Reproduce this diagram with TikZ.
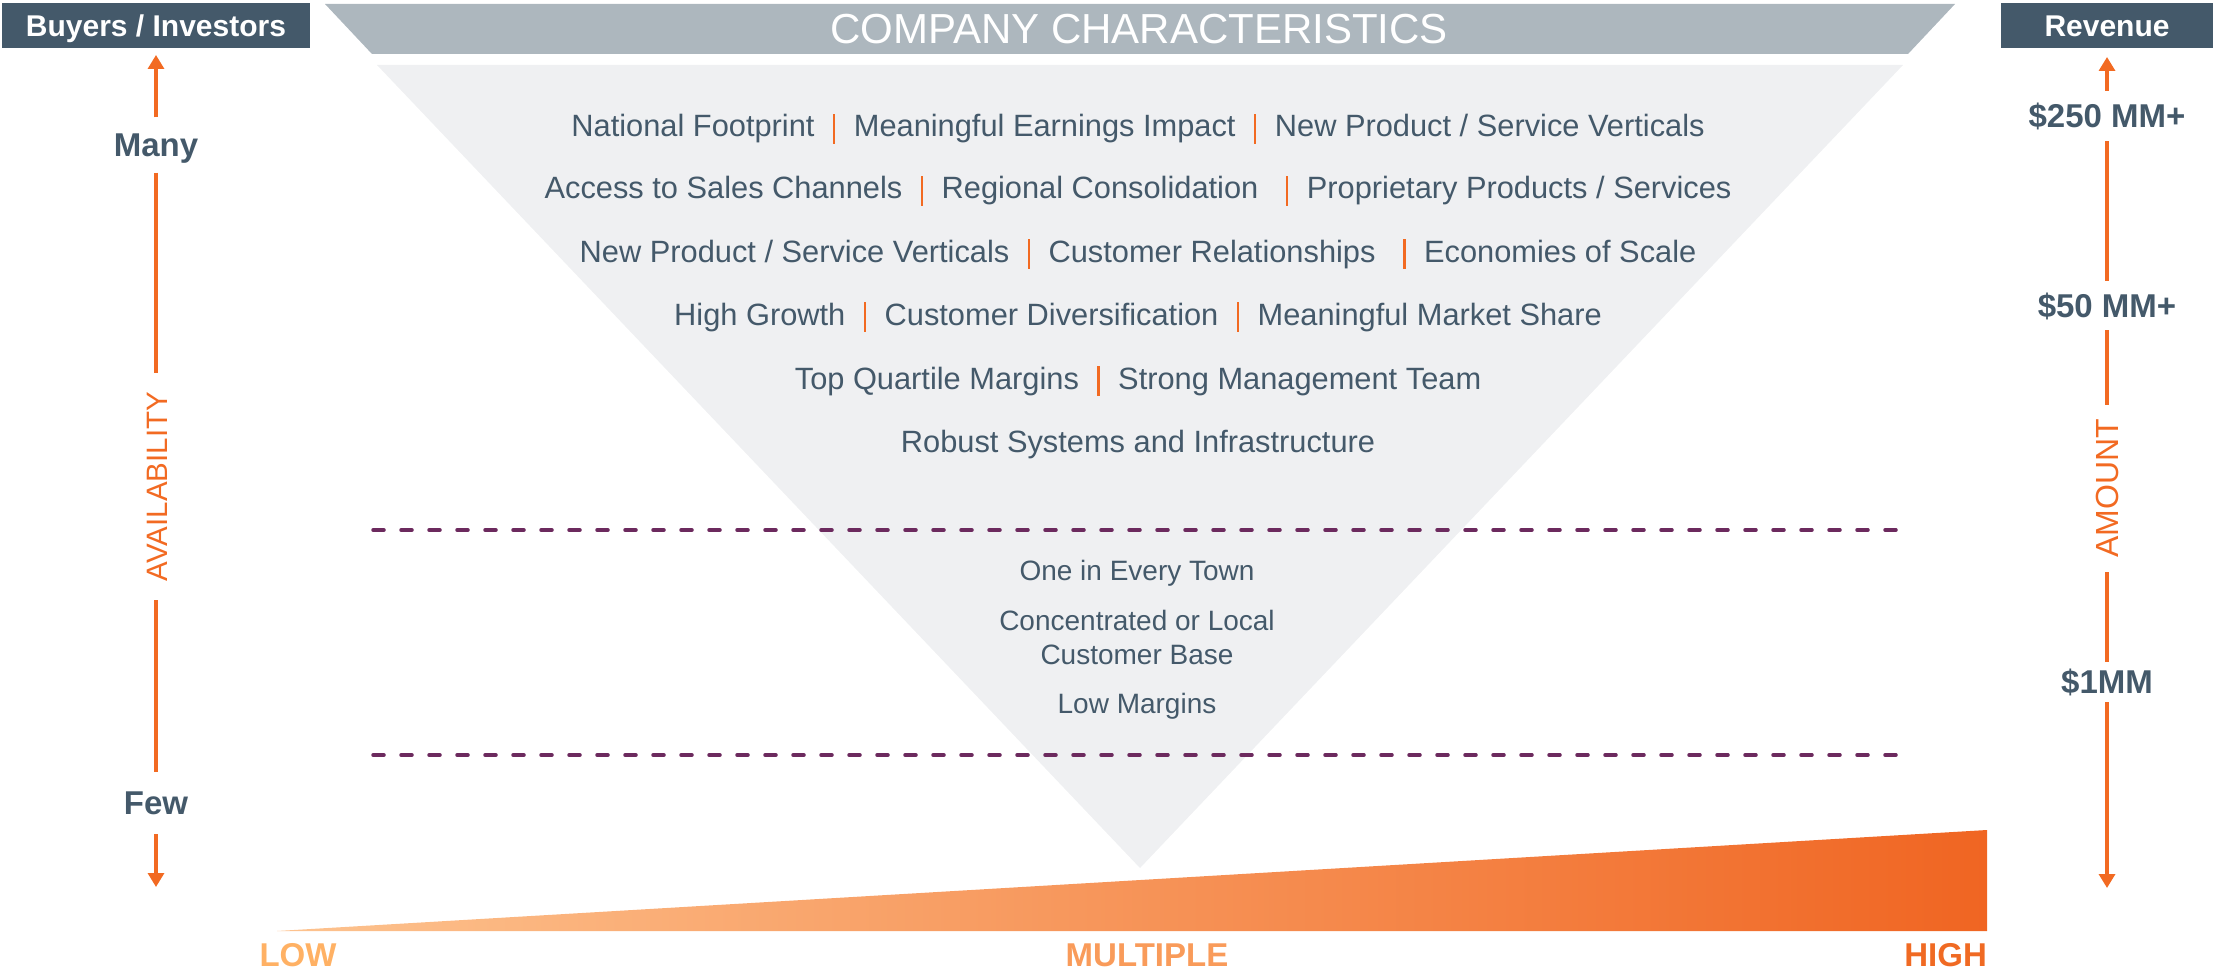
\documentclass[tikz,border=0pt]{standalone}
\usepackage{fontspec}
\setmainfont{Liberation Sans}
\usetikzlibrary{arrows.meta}

\definecolor{slate}{HTML}{44596A}
\definecolor{accent}{HTML}{F26A22}
\definecolor{bandgray}{HTML}{ADB7BE}
\definecolor{funnelgray}{HTML}{EFF0F2}
\definecolor{dashpurple}{HTML}{6C2A5E}
\definecolor{lowtone}{HTML}{FFB164}
\definecolor{midtone}{HTML}{F99B5A}
\definecolor{hightone}{HTML}{F06A23}
\definecolor{wedgeleft}{HTML}{FDC38F}
\definecolor{wedgeright}{HTML}{F06522}

% orange bar between items of a row
\newcommand{\rowbar}{\hspace{0.6em}{\color{accent}\rule[-0.22em]{2.3pt}{0.98em}}\hspace{0.6em}}

\tikzset{
  hdrbox/.style={fill=slate, text=white, inner sep=0pt, minimum height=45pt,
    font=\fontsize{30}{34}\selectfont\bfseries, text height=21.5pt, text depth=0pt},
  rowtext/.style={text=slate, inner sep=0pt, font=\fontsize{30.8}{36}\selectfont,
    text height=22pt, text depth=0pt},
  lowtext/.style={text=slate, inner sep=0pt, font=\fontsize{28}{34}\selectfont,
    text height=20pt, text depth=0pt},
  axislabel/.style={text=slate, inner sep=0pt, font=\fontsize{33}{38}\selectfont\bfseries,
    text height=23.6pt, text depth=0pt},
  axisname/.style={text=accent, inner sep=0pt, rotate=90,
    text height=22pt, text depth=0pt},
  axisline/.style={draw=accent, line width=3.3pt},
  axisarrow/.style={axisline, -{Triangle[width=16pt,length=14pt]}},
  scaletext/.style={inner sep=0pt, font=\fontsize{33}{38}\selectfont\bfseries,
    text height=23.6pt, text depth=0pt},
  divider/.style={draw=dashpurple, line width=3.5pt, line cap=round,
    dash pattern=on 11pt off 17pt},
}

\begin{document}
\begin{tikzpicture}[x=1pt, y=-1pt]
\useasboundingbox (0,0) rectangle (2215,976);

% header band and funnel
\fill[bandgray] (325,4) -- (1955,4) -- (1908,54) -- (372,54) -- cycle;
\fill[funnelgray] (377,65) -- (1903,65) -- (1140,868) -- cycle;
\node[text=white, inner sep=0pt, font=\fontsize{42}{48}\selectfont,
  text height=30pt, text depth=0pt] (title) at (1139,29) {COMPANY CHARACTERISTICS};

% upper characteristics
\node[rowtext] (r1) at (1138,126) {National Footprint\rowbar Meaningful Earnings Impact\rowbar New Product / Service Verticals};
\node[rowtext] (r2) at (1138,188) {Access to Sales Channels\rowbar Regional Consolidation\hspace{0.3em}\rowbar Proprietary Products / Services};
\node[rowtext] (r3) at (1138,251) {New Product / Service Verticals\rowbar Customer Relationships\hspace{0.3em}\rowbar Economies of Scale};
\node[rowtext] (r4) at (1138,314) {High Growth\rowbar Customer Diversification\rowbar Meaningful Market Share};
\node[rowtext] (r5) at (1138,378) {Top Quartile Margins\rowbar Strong Management Team};
\node[rowtext] (r6) at (1138,441) {Robust Systems and Infrastructure};

% dividers
\draw[divider] (373,530) -- (1903,530);
\draw[divider] (373,755) -- (1903,755);

% lower characteristics
\node[lowtext] (l1) at (1137,570) {One in Every Town};
\node[lowtext] (l2) at (1137,620) {Concentrated or Local};
\node[lowtext] (l3) at (1137,654) {Customer Base};
\node[lowtext] (l4) at (1137,703) {Low Margins};

% left axis: buyers / investors
\node[hdrbox, minimum width=308pt] (buyers) at (156,25.5) {Buyers / Investors};
\coordinate (ltop) at (156,55);
\coordinate (lbot) at (156,887);
\node[axislabel, minimum height=55pt] (many) at (156,145) {Many};
\node[axisname, minimum width=227pt, font=\fontsize{29.5}{34}\selectfont] (avail) at (156,486.5) {AVAILABILITY};
\node[axislabel, minimum height=62pt] (few) at (156,803) {Few};
\draw[axisarrow] (many.north) -- (ltop);
\draw[axisline] (many.south) -- (avail.east);
\draw[axisline] (avail.west) -- (few.north);
\draw[axisarrow] (few.south) -- (lbot);

% right axis: revenue
\node[hdrbox, minimum width=212pt] (revenue) at (2107,25.5) {Revenue};
\coordinate (rtop) at (2107,57);
\coordinate (rbot) at (2107,888);
\node[axislabel, minimum height=50pt] (m250) at (2107,116) {\$250 MM+};
\node[axislabel, minimum height=49pt] (m50) at (2107,305.5) {\$50 MM+};
\node[axisname, minimum width=167pt, font=\fontsize{32}{36}\selectfont] (amount) at (2107,488.5) {AMOUNT};
\node[axislabel, minimum height=40pt] (m1) at (2107,682) {\$1MM};
\draw[axisarrow] (m250.north) -- (rtop);
\draw[axisline] (m250.south) -- (m50.north);
\draw[axisline] (m50.south) -- (amount.east);
\draw[axisline] (amount.west) -- (m1.north);
\draw[axisarrow] (m1.south) -- (rbot);

% multiple wedge
\shade[left color=wedgeleft, right color=wedgeright]
  (277,931) -- (1987,830) -- (1987,931) -- cycle;
\node[scaletext, text=lowtone] (low) at (298,955) {LOW};
\node[scaletext, text=midtone] (mult) at (1147,955) {MULTIPLE};
\node[scaletext, text=hightone, anchor=east] (high) at (1987,955) {HIGH};
\end{tikzpicture}
\end{document}
